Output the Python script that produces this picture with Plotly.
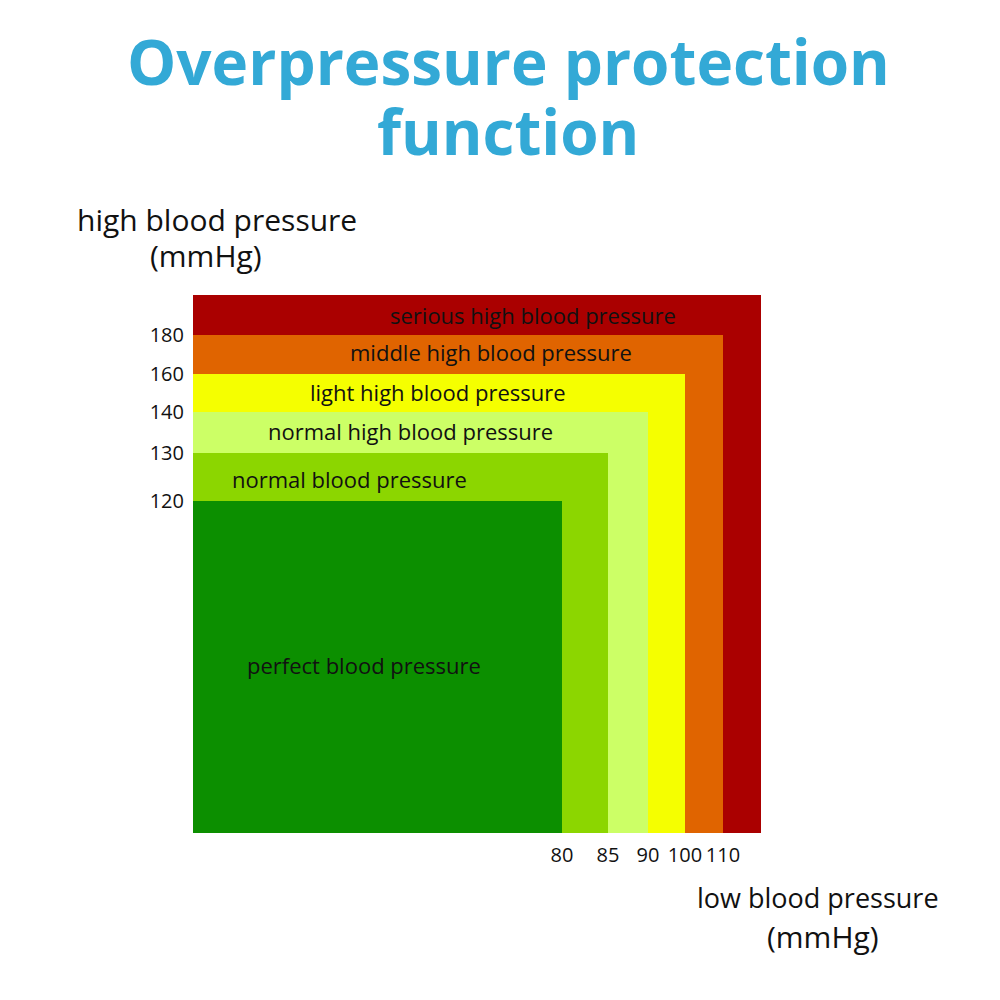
import plotly.graph_objects as go

# Chart data (schematic units: position from the plot's lower-left corner)
band_names = [
    "perfect blood pressure",
    "normal blood pressure",
    "normal high blood pressure",
    "light high blood pressure",
    "middle high blood pressure",
    "serious high blood pressure",
]
band_colors = ["#0C8F00", "#8CD600", "#CCFF66", "#F5FF00", "#E06400", "#AA0000"]
band_x_right = [369, 415, 455, 492, 530, 568]
band_y_top = [332, 380, 421, 459, 498, 538]

low_bp_ticks = [80, 85, 90, 100, 110]
high_bp_ticks = [120, 130, 140, 160, 180]

label_x = [171, 156, 217, 245, 298, 340]
label_y = [168, 354, 402, 441, 481, 518]

FONT = "Open Sans"

# plot area in pixels (for placing outside texts in paper coords)
L, R, T, B = 193, 761, 295, 833
def px(x):
    return (x - L) / (R - L)
def py(y):
    return (B - y) / (B - T)

fig = go.Figure()
for name, col, xr, yt in reversed(list(zip(band_names, band_colors, band_x_right, band_y_top))):
    fig.add_trace(go.Scatter(
        x=[0, xr, xr, 0, 0], y=[0, 0, yt, yt, 0],
        fill="toself", fillcolor=col, mode="lines",
        line=dict(width=0, color=col), hoverinfo="skip", name=name,
        showlegend=False,
    ))

for name, lx, ly in zip(band_names, label_x, label_y):
    fig.add_annotation(x=lx, y=ly, xref="x", yref="y", text=name, showarrow=False,
                       font=dict(family=FONT, size=22, color="#111111"))

title_font = dict(family=FONT, size=62, color="#33A9D6")
fig.add_annotation(x=px(508), y=py(61), xref="paper", yref="paper", text="<b>Overpressure protection</b>",
                   showarrow=False, font=title_font, xanchor="center", yanchor="middle")
fig.add_annotation(x=px(508), y=py(131), xref="paper", yref="paper", text="<b>function</b>",
                   showarrow=False, font=title_font, xanchor="center", yanchor="middle")

axis_font = dict(family=FONT, size=30, color="#111111")
fig.add_annotation(x=px(216.5), y=py(220), xref="paper", yref="paper", text="high blood pressure",
                   showarrow=False, font=axis_font, xanchor="center", yanchor="middle")
fig.add_annotation(x=px(206), y=py(256), xref="paper", yref="paper", text="(mmHg)",
                   showarrow=False, font=axis_font, xanchor="center", yanchor="middle")
fig.add_annotation(x=px(818), y=py(898), xref="paper", yref="paper", text="low blood pressure",
                   showarrow=False, font=dict(family=FONT, size=27, color="#111111"), xanchor="center", yanchor="middle")
fig.add_annotation(x=px(823), y=py(936), xref="paper", yref="paper", text="(mmHg)",
                   showarrow=False, font=axis_font, xanchor="center", yanchor="middle")

fig.update_layout(
    width=1000, height=1000,
    margin=dict(l=L, r=1000 - R, t=T, b=1000 - B),
    paper_bgcolor="white", plot_bgcolor="white",
    showlegend=False,
)
fig.update_xaxes(range=[0, 568], tickvals=band_x_right[:5], ticktext=[str(v) for v in low_bp_ticks],
                 showgrid=False, zeroline=False, showline=False, ticks="",
                 tickfont=dict(family=FONT, size=20, color="#111111"), ticklabelstandoff=8, fixedrange=True)
fig.update_yaxes(range=[0, 538], tickvals=band_y_top[:5], ticktext=[str(v) for v in high_bp_ticks],
                 showgrid=False, zeroline=False, showline=False, ticks="",
                 tickfont=dict(family=FONT, size=20, color="#111111"), ticklabelstandoff=8, fixedrange=True)

fig.write_html("out.html")
